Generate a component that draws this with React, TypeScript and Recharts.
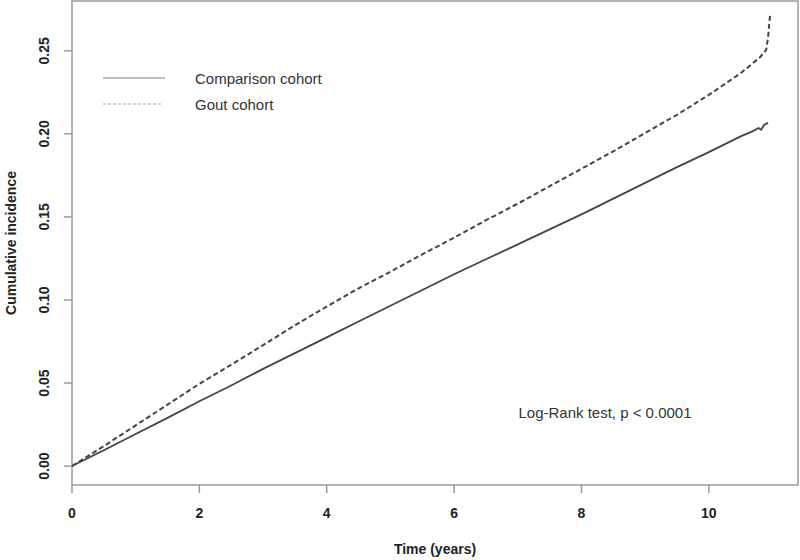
import { LineChart, Line, XAxis, YAxis, ReferenceArea } from 'recharts';

const comparisonTimes = [0, 0.5, 1, 1.5, 2, 2.5, 3, 3.5, 4, 4.5, 5, 5.5, 6, 6.5, 7, 7.5, 8, 8.5, 9, 9.5, 10, 10.5, 10.7, 10.78, 10.82, 10.87, 10.93];
const comparisonValues = [0, 0.0095, 0.0193, 0.029, 0.039, 0.0485, 0.0585, 0.068, 0.0775, 0.087, 0.0965, 0.106, 0.1155, 0.1245, 0.1335, 0.1425, 0.1515, 0.161, 0.1705, 0.18, 0.189, 0.1985, 0.2018, 0.2035, 0.2025, 0.2055, 0.2066];

const goutTimes = [0, 0.5, 1, 1.5, 2, 2.5, 3, 3.5, 4, 4.5, 5, 5.5, 6, 6.5, 7, 7.5, 8, 8.5, 9, 9.5, 10, 10.5, 10.8, 10.9, 10.93, 10.96];
const goutValues = [0, 0.012, 0.0245, 0.037, 0.0495, 0.061, 0.0728, 0.0848, 0.096, 0.107, 0.117, 0.1275, 0.1375, 0.148, 0.158, 0.1685, 0.179, 0.1895, 0.2005, 0.2115, 0.2235, 0.2365, 0.246, 0.2505, 0.258, 0.271];

const xTicks = [0, 2, 4, 6, 8, 10];
const yTicks = [0, 0.05, 0.1, 0.15, 0.2, 0.25];
const seriesNames = ['Comparison cohort', 'Gout cohort'];
const annotation = 'Log-Rank test, p < 0.0001';

const comparisonData = comparisonTimes.map((t, i) => ({ t, v: comparisonValues[i] }));
const goutData = goutTimes.map((t, i) => ({ t, v: goutValues[i] }));

const FONT = '"Liberation Sans", Arial, sans-serif';
const AXIS_GRAY = '#9a9a9a';

function YTick({ y, payload }: any) {
  return (
    <text
      x={44}
      y={y}
      transform={`rotate(-90 44 ${y})`}
      textAnchor="middle"
      dominantBaseline="central"
      fontFamily={FONT}
      fontSize={14}
      fontWeight="bold"
      fill="#222"
    >
      {payload.value.toFixed(2)}
    </text>
  );
}

function XTick({ x, payload }: any) {
  return (
    <text x={x} y={518} textAnchor="middle" fontFamily={FONT} fontSize={14} fontWeight="bold" fill="#222">
      {payload.value}
    </text>
  );
}

export default function App() {
  return (
    <div style={{ position: 'absolute', left: 0, top: 0, width: 800, height: 560, background: '#fff' }}>
      <LineChart width={800} height={560} margin={{ top: 1, right: 2, left: 0, bottom: 0 }}>
        <XAxis
          dataKey="t"
          type="number"
          domain={[0, 11.4]}
          ticks={xTicks}
          allowDataOverflow
          height={75}
          axisLine={false}
          tickSize={8}
          tickLine={{ stroke: AXIS_GRAY, strokeWidth: 1.5 }}
          tick={<XTick />}
          label={{
            value: 'Time (years)',
            position: 'insideBottom',
            offset: 6,
            style: { fontFamily: FONT, fontSize: 14, fontWeight: 'bold', fill: '#222' },
          }}
        />
        <YAxis
          type="number"
          domain={[-0.0114, 0.28]}
          ticks={yTicks}
          allowDataOverflow
          width={72}
          axisLine={false}
          tickSize={8}
          tickLine={{ stroke: AXIS_GRAY, strokeWidth: 1.5 }}
          tick={<YTick />}
        />
        <ReferenceArea
          x1={0}
          x2={11.4}
          y1={-0.0114}
          y2={0.28}
          fill="none"
          stroke={AXIS_GRAY}
          strokeWidth={1.5}
          ifOverflow="extendDomain"
        />
        <Line
          data={comparisonData}
          dataKey="v"
          name={seriesNames[0]}
          type="linear"
          stroke="#444"
          strokeWidth={1.8}
          dot={false}
          isAnimationActive={false}
        />
        <Line
          data={goutData}
          dataKey="v"
          name={seriesNames[1]}
          type="linear"
          stroke="#444"
          strokeWidth={2}
          strokeDasharray="5 3"
          dot={false}
          isAnimationActive={false}
        />
        {/* legend, drawn in R style inside the plot box */}
        <g>
          <line x1={103} x2={165} y1={78} y2={78} stroke="#aaa" strokeWidth={1.5} />
          <line x1={103} x2={163} y1={104} y2={104} stroke="#aaa" strokeWidth={1.2} strokeDasharray="3 2" />
          <text x={195} y={78} dominantBaseline="central" fontFamily={FONT} fontSize={15} fill="#333">
            {seriesNames[0]}
          </text>
          <text x={195} y={104} dominantBaseline="central" fontFamily={FONT} fontSize={15} fill="#333">
            {seriesNames[1]}
          </text>
        </g>
        <text x={11} y={243} transform="rotate(-90 11 243)" textAnchor="middle" dominantBaseline="central" fontFamily={FONT} fontSize={14} fontWeight="bold" fill="#222">
          Cumulative incidence
        </text>
        <text x={605} y={412} textAnchor="middle" dominantBaseline="central" fontFamily={FONT} fontSize={15} fill="#333">
          {annotation}
        </text>
      </LineChart>
    </div>
  );
}
